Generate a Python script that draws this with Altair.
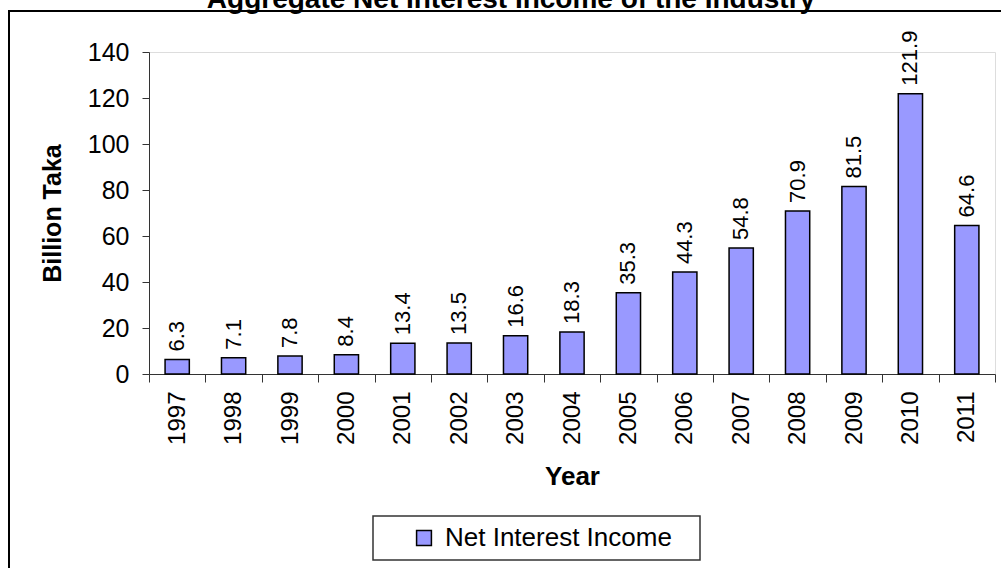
import altair as alt
import pandas as pd

years = ["1997", "1998", "1999", "2000", "2001", "2002", "2003", "2004",
         "2005", "2006", "2007", "2008", "2009", "2010", "2011"]
income = [6.3, 7.1, 7.8, 8.4, 13.4, 13.5, 16.6, 18.3,
          35.3, 44.3, 54.8, 70.9, 81.5, 121.9, 64.6]
series_name = "Net Interest Income"
chart_title = "Aggregate Net Interest Income of the Industry"
y_ticks = [0, 20, 40, 60, 80, 100, 120, 140]

FONT = "Liberation Sans"

df = pd.DataFrame({"year": years, "value": income, "series": [series_name] * len(years)})
one = pd.DataFrame({"k": [0]})

x_enc = alt.X(
    "year:O",
    sort=years,
    scale=alt.Scale(paddingInner=0, paddingOuter=0),
    axis=alt.Axis(
        title="Year", titleFontSize=26, titleFontWeight="bold", titleFont=FONT,
        titlePadding=19, titleColor="black",
        labelAngle=270, labelFontSize=24, labelFont=FONT, labelColor="black",
        labelPadding=9, tickBand="extent", tickSize=8, tickColor="#333",
        domainColor="#333", labelOverlap=False,
    ),
)
y_enc = alt.Y(
    "value:Q",
    scale=alt.Scale(domain=[0, 140], nice=False),
    axis=alt.Axis(
        title="Billion Taka", titleFontSize=25, titleFontWeight="bold", titleFont=FONT,
        titlePadding=22, titleColor="black",
        values=y_ticks, labelFontSize=25, labelFont=FONT, labelColor="black",
        labelPadding=13, tickSize=7, tickColor="#333", domainColor="#333", grid=False,
    ),
)

# outer frame around the whole chart
frame = alt.Chart(one).mark_rect(fillOpacity=0, stroke="black", strokeWidth=2).encode(
    x=alt.value(-140), x2=alt.value(1000), y=alt.value(-41), y2=alt.value(700)
)

# box drawn behind the legend entry
legend_box = alt.Chart(one).mark_rect(fill="white", stroke="#333", strokeWidth=1.5).encode(
    x=alt.value(224), x2=alt.value(551), y=alt.value(464), y2=alt.value(508)
)

title_text = alt.Chart(one).mark_text(
    text=chart_title, font=FONT, fontSize=28, fontWeight="bold",
    align="center", baseline="alphabetic", color="black",
).encode(x=alt.value(362), y=alt.value(-44))

bars = alt.Chart(df).mark_bar(
    width=alt.RelativeBandSize(0.43), stroke="black", strokeWidth=1.5
).encode(
    x=x_enc,
    y=y_enc,
    color=alt.Color(
        "series:N",
        scale=alt.Scale(range=["#9999FF"]),
        legend=alt.Legend(
            title=None, orient="none", legendX=262, legendY=473,
            symbolType="square", symbolSize=220, symbolStrokeColor="black",
            symbolStrokeWidth=1.5, labelFontSize=26, labelFont=FONT,
            labelColor="black", labelOffset=8, labelLimit=0,
        ),
    ),
)

labels = alt.Chart(df).mark_text(
    angle=270, align="left", baseline="middle", dx=8, fontSize=22, font=FONT, color="black"
).encode(x=alt.X("year:O", sort=years), y="value:Q", text=alt.Text("value:Q", format=".1f"))

chart = alt.layer(frame, legend_box, title_text, bars, labels).properties(
    width=846, height=322,
    autosize=alt.AutoSizeParams(type="none"),
    padding={"left": 149, "top": 52, "right": 6, "bottom": 194},
).configure_view(stroke=None).configure(background="white")

chart.save("out.html", embed_options={"renderer": "svg", "actions": False})
